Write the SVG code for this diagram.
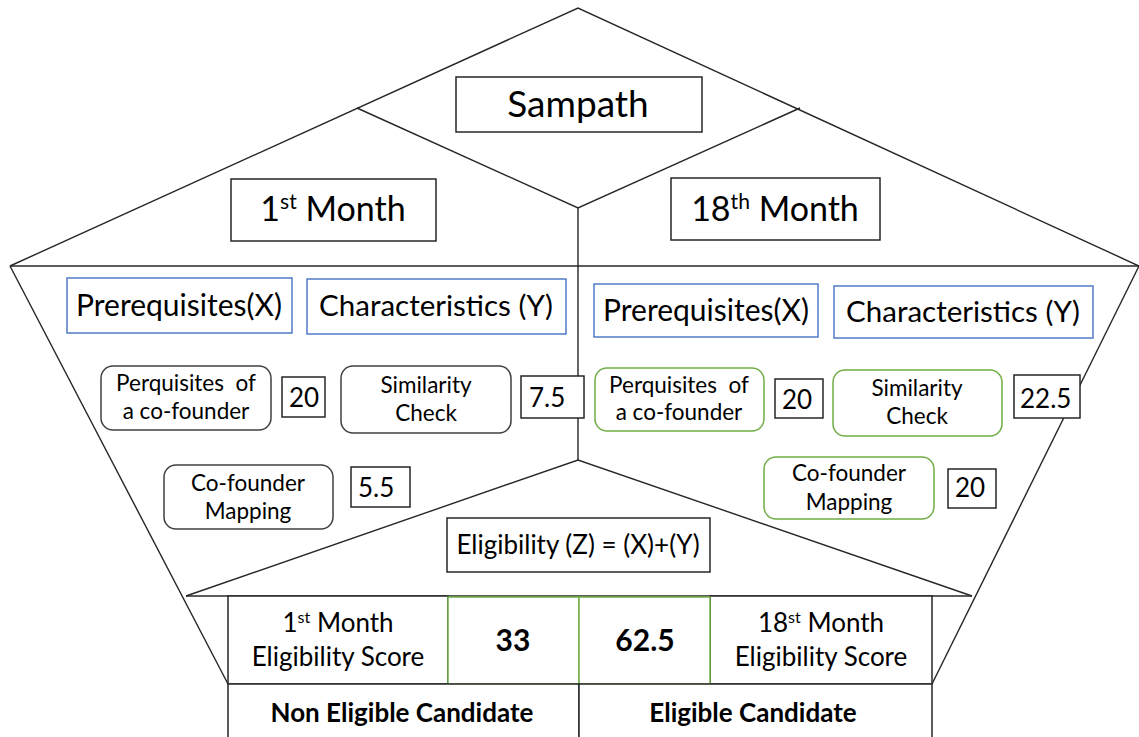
<svg xmlns="http://www.w3.org/2000/svg" width="1139" height="737" viewBox="0 0 1139 737">
  <style>
    text { font-family: Lato, "Noto Sans", "Liberation Sans", sans-serif; fill: #000; text-anchor: middle; }
    .frame { fill: none; stroke: #262626; stroke-width: 1.4; }
    .box { fill: #fff; stroke: #262626; stroke-width: 1.5; }
    .blue { fill: #fff; stroke: #4472C4; stroke-width: 1.4; }
    .round { fill: #fff; stroke: #404040; stroke-width: 1.5; }
    .roundg { fill: #fff; stroke: #70AD47; stroke-width: 1.5; }
    .cellg { fill: #fff; stroke: #70AD47; stroke-width: 1.5; }
    .t38 { font-size: 37px; }
    .t35 { font-size: 34px; }
    .t31 { font-size: 30px; }
    .t30 { font-size: 29.5px; }
    .t23 { font-size: 22.5px; }
    .t26 { font-size: 26px; }
    .tb { font-weight: bold; }
    .sup { font-size: 0.62em; }
    .ls { text-anchor: start; }
  </style>

  <rect width="1139" height="737" fill="#fff"/>

  <!-- outline of the house / pentagon and its internal divisions -->
  <g id="connectors">
    <polyline class="frame" points="10,266 578,8 1139,266"/>
    <line class="frame" x1="10" y1="266" x2="1139" y2="266"/>
    <polyline class="frame" points="357,108 578,208 800,108"/>
    <line class="frame" x1="578" y1="208" x2="578" y2="460"/>
    <line class="frame" x1="10" y1="266" x2="228" y2="684"/>
    <line class="frame" x1="1139" y1="266" x2="932" y2="684"/>
    <polyline class="frame" points="186,596 578,460 972,596"/>
    <line class="frame" x1="186" y1="596" x2="972" y2="596"/>
  </g>

  <g id="sampath">
    <rect class="box" x="456" y="77" width="246" height="55"/>
    <text class="t38" x="578" y="117">Sampath</text>
  </g>

  <g id="month1">
    <rect class="box" x="231" y="179" width="205" height="62"/>
    <text class="t35" x="333" y="221">1<tspan class="sup" dy="-12">st</tspan><tspan dy="12"> Month</tspan></text>
  </g>

  <g id="month18">
    <rect class="box" x="671" y="178" width="209" height="62"/>
    <text class="t35" x="775" y="221">18<tspan class="sup" dy="-12">th</tspan><tspan dy="12"> Month</tspan></text>
  </g>

  <!-- 1st month criteria -->
  <g id="prereq-1">
    <rect class="blue" x="67" y="278" width="225" height="55"/>
    <text class="t31" x="179" y="316">Prerequisites(X)</text>
  </g>
  <g id="charac-1">
    <rect class="blue" x="307" y="279" width="259" height="55"/>
    <text class="t30" x="436" y="316">Characteristics (Y)</text>
  </g>
  <g id="perq-1">
    <rect class="round" x="101" y="366" width="170" height="64" rx="12"/>
    <text class="t23" x="186" y="391" xml:space="preserve">Perquisites  of</text>
    <text class="t23" x="186" y="419">a co-founder</text>
  </g>
  <g id="perq-1-score">
    <rect class="box" x="282" y="377" width="43" height="40"/>
    <text class="t26" x="304" y="407">20</text>
  </g>
  <g id="sim-1">
    <rect class="round" x="341" y="366" width="170" height="67" rx="12"/>
    <text class="t23" x="426" y="393">Similarity</text>
    <text class="t23" x="426" y="421">Check</text>
  </g>
  <g id="sim-1-score">
    <rect class="box" x="521" y="376" width="63" height="42"/>
    <text class="t26 ls" x="529" y="407">7.5</text>
  </g>
  <g id="map-1">
    <rect class="round" x="164" y="465" width="169" height="64" rx="12"/>
    <text class="t23" x="248" y="491">Co-founder</text>
    <text class="t23" x="248" y="519">Mapping</text>
  </g>
  <g id="map-1-score">
    <rect class="box" x="351" y="467" width="59" height="40"/>
    <text class="t26 ls" x="358" y="497">5.5</text>
  </g>

  <!-- 18th month criteria -->
  <g id="prereq-18">
    <rect class="blue" x="594" y="284" width="224" height="53"/>
    <text class="t31" x="706" y="321">Prerequisites(X)</text>
  </g>
  <g id="charac-18">
    <rect class="blue" x="834" y="286" width="259" height="52"/>
    <text class="t30" x="963" y="322">Characteristics (Y)</text>
  </g>
  <g id="perq-18">
    <rect class="roundg" x="595" y="368" width="169" height="63" rx="12"/>
    <text class="t23" x="679" y="393" xml:space="preserve">Perquisites  of</text>
    <text class="t23" x="679" y="420">a co-founder</text>
  </g>
  <g id="perq-18-score">
    <rect class="box" x="775" y="379" width="48" height="39"/>
    <text class="t26" x="797" y="409">20</text>
  </g>
  <g id="sim-18">
    <rect class="roundg" x="833" y="370" width="169" height="66" rx="12"/>
    <text class="t23" x="917" y="396">Similarity</text>
    <text class="t23" x="917" y="424">Check</text>
  </g>
  <g id="sim-18-score">
    <rect class="box" x="1014" y="375" width="66" height="43"/>
    <text class="t26 ls" x="1020" y="408">22.5</text>
  </g>
  <g id="map-18">
    <rect class="roundg" x="764" y="457" width="170" height="62" rx="12"/>
    <text class="t23" x="849" y="481">Co-founder</text>
    <text class="t23" x="849" y="510">Mapping</text>
  </g>
  <g id="map-18-score">
    <rect class="box" x="948" y="469" width="48" height="39"/>
    <text class="t26" x="970" y="497">20</text>
  </g>

  <g id="eligibility">
    <rect class="box" x="447" y="518" width="263" height="54"/>
    <text class="t26" x="578" y="554">Eligibility (Z) = (X)+(Y)</text>
  </g>

  <!-- score table -->
  <g id="score-1-label">
    <rect class="box" x="228" y="596" width="220" height="88"/>
    <text class="t26" x="338" y="632">1<tspan class="sup" dy="-9">st</tspan><tspan dy="9"> Month</tspan></text>
    <text class="t26" x="338" y="666">Eligibility Score</text>
  </g>
  <g id="score-18-label">
    <rect class="box" x="710" y="596" width="222" height="88"/>
    <text class="t26" x="821" y="632">18<tspan class="sup" dy="-9">st</tspan><tspan dy="9"> Month</tspan></text>
    <text class="t26" x="821" y="666">Eligibility Score</text>
  </g>
  <g id="score-1">
    <rect class="cellg" x="448" y="597" width="131" height="87"/>
    <text class="t31 tb" x="513" y="651">33</text>
  </g>
  <g id="score-18">
    <rect class="cellg" x="579" y="597" width="131" height="87"/>
    <text class="t31 tb" x="645" y="651">62.5</text>
  </g>
  <g id="non-eligible">
    <rect class="box" x="228" y="684" width="351" height="60"/>
    <text class="t26 tb" x="402" y="722">Non Eligible Candidate</text>
  </g>
  <g id="eligible">
    <rect class="box" x="579" y="684" width="353" height="60"/>
    <text class="t26 tb" x="753" y="722">Eligible Candidate</text>
  </g>
</svg>
